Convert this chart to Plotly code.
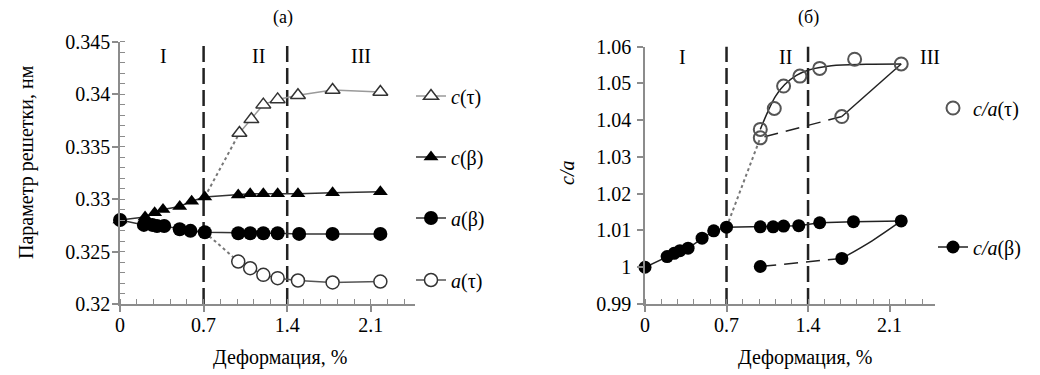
import plotly.graph_objects as go

FONT = '"Liberation Serif", "Times New Roman", Times, serif'
FS = 20

# ---------------- Panel (а): lattice parameters ----------------
x_c_tau = [1.00, 1.10, 1.20, 1.32, 1.49, 1.78, 2.18]
c_tau = [0.3363, 0.3376, 0.3390, 0.3395, 0.3399, 0.3404, 0.3402]

x_c_beta = [0.00, 0.21, 0.29, 0.36, 0.50, 0.60, 0.71, 0.99, 1.09, 1.20, 1.32, 1.49, 1.78, 2.18]
c_beta = [0.3280, 0.3283, 0.3287, 0.3290, 0.3293, 0.3298, 0.3302, 0.3304, 0.3305, 0.3305,
          0.3305, 0.3305, 0.3306, 0.3307]

x_a_beta = [0.00, 0.20, 0.27, 0.31, 0.37, 0.50, 0.59, 0.71, 0.99, 1.09, 1.20, 1.32, 1.50, 1.78, 2.18]
a_beta = [0.3280, 0.32754, 0.32754, 0.32744, 0.32744, 0.32713, 0.32697, 0.32684, 0.32675,
          0.32675, 0.32675, 0.32675, 0.32668, 0.32668, 0.32668]

x_a_tau = [0.99, 1.09, 1.20, 1.32, 1.49, 1.78, 2.18]
a_tau = [0.32405, 0.32341, 0.32278, 0.32246, 0.32224, 0.32205, 0.32214]

x_c_dot = [0.71, 1.00]
c_dot = [0.3302, 0.3363]
x_a_dot = [0.71, 0.99]
a_dot = [0.32684, 0.32405]

# ---------------- Panel (б): c/a ----------------
x_ca_beta = [0.00, 0.19, 0.25, 0.30, 0.37, 0.49, 0.59, 0.70, 0.99, 1.10, 1.19, 1.32, 1.50, 1.79, 2.20]
ca_beta = [1.0000, 1.0029, 1.0038, 1.0045, 1.0052, 1.0079, 1.0099, 1.0109, 1.0110, 1.0110,
           1.0112, 1.0113, 1.0121, 1.0124, 1.0126]
x_ca_beta_ret = [1.69, 0.99]
ca_beta_ret = [1.0024, 1.0002]
x_ca_beta_ret_curve = [2.20, 1.95, 1.69]
ca_beta_ret_curve = [1.0126, 1.0072, 1.0024]

x_ca_tau = [0.99, 1.11, 1.19, 1.33, 1.50, 1.80, 2.20]
ca_tau = [1.0375, 1.0432, 1.0493, 1.0520, 1.0541, 1.0566, 1.0553]
x_ca_tau_fit = [0.99, 1.05, 1.12, 1.20, 1.30, 1.40, 1.60, 1.90, 2.20]
ca_tau_fit = [1.0375, 1.0420, 1.0465, 1.0497, 1.0522, 1.0536, 1.0548, 1.0552, 1.0553]
x_ca_tau_ret = [1.69, 0.99]
ca_tau_ret = [1.0410, 1.0352]
x_ca_dot = [0.70, 0.99]
ca_dot = [1.0109, 1.0352]

boundaries = [0.7, 1.4]
stage_labels = ["I", "II", "III"]
stage_x_a = [0.36, 1.16, 2.02]
stage_x_b = [0.32, 1.21, 2.45]

xticks = [0, 0.7, 1.4, 2.1]
xticktext = ["0", "0.7", "1.4", "2.1"]
yticks_a = [0.32, 0.325, 0.33, 0.335, 0.34, 0.345]
yticktext_a = ["0.32", "0.325", "0.33", "0.335", "0.34", "0.345"]
yticks_b = [0.99, 1.00, 1.01, 1.02, 1.03, 1.04, 1.05, 1.06]
yticktext_b = ["0.99", "1", "1.01", "1.02", "1.03", "1.04", "1.05", "1.06"]

W, H = 1040, 375
fig = go.Figure()

GRAY_LINE = "#9a9a9a"
DOT = "#777777"
SOLID = "#222222"

def add(x, y, xa, ya, **kw):
    kw.setdefault("showlegend", False)
    fig.add_trace(go.Scatter(x=x, y=y, xaxis=xa, yaxis=ya, cliponaxis=False, **kw))

# ---- panel a traces ----
add(x_c_dot, c_dot, "x", "y", mode="lines", line=dict(color=DOT, width=2, dash="dot"))
add(x_a_dot, a_dot, "x", "y", mode="lines", line=dict(color=DOT, width=2, dash="dot"))
add(x_c_beta, c_beta, "x", "y", mode="lines+markers", name="<i>c</i>(β)",
    line=dict(color="#333333", width=1.5),
    marker=dict(symbol="triangle-up", size=13, color="black"),
    showlegend=True, legend="legend2")
add(x_c_tau, c_tau, "x", "y", mode="lines+markers", name="<i>c</i>(τ)",
    line=dict(color=GRAY_LINE, width=1.5),
    marker=dict(symbol="triangle-up", size=13, color="white", line=dict(color="#333333", width=1.5)),
    showlegend=True, legend="legend")
add(x_a_tau, a_tau, "x", "y", mode="lines+markers", name="<i>a</i>(τ)",
    line=dict(color="#555555", width=1.5),
    marker=dict(symbol="circle", size=13, color="white", line=dict(color="#333333", width=1.5)),
    showlegend=True, legend="legend4")
add(x_a_beta, a_beta, "x", "y", mode="lines+markers", name="<i>a</i>(β)",
    line=dict(color="#333333", width=1.5),
    marker=dict(symbol="circle", size=14, color="black"),
    showlegend=True, legend="legend3")

# ---- panel b traces ----
add(x_ca_dot, ca_dot, "x2", "y2", mode="lines", line=dict(color=DOT, width=2, dash="dot"))
add(x_ca_tau_fit, ca_tau_fit, "x2", "y2", mode="lines", line=dict(color=SOLID, width=1.5, shape="spline"))
add([x_ca_tau[-1], x_ca_tau_ret[0]], [ca_tau[-1], ca_tau_ret[0]], "x2", "y2", mode="lines",
    line=dict(color=SOLID, width=1.5))
add(x_ca_tau_ret, ca_tau_ret, "x2", "y2", mode="lines", line=dict(color=SOLID, width=1.5, dash="14px,8px"))
add(x_ca_beta_ret_curve, ca_beta_ret_curve, "x2", "y2", mode="lines",
    line=dict(color=SOLID, width=1.5, shape="spline"))
add(x_ca_beta_ret, ca_beta_ret, "x2", "y2", mode="lines", line=dict(color=SOLID, width=1.5, dash="14px,8px"))
add(x_ca_beta_ret, ca_beta_ret, "x2", "y2", mode="markers", marker=dict(symbol="circle", size=13, color="black"))
add(x_ca_beta, ca_beta, "x2", "y2", mode="lines+markers", name="<i>c/a</i>(β)",
    line=dict(color=SOLID, width=1.5),
    marker=dict(symbol="circle", size=13, color="black"),
    showlegend=True, legend="legend6")
add(x_ca_tau + x_ca_tau_ret, ca_tau + ca_tau_ret,
    "x2", "y2", mode="markers", name="<i>c/a</i>(τ)",
    marker=dict(symbol="circle-open", size=13, color="#555555", line=dict(width=2)),
    showlegend=True, legend="legend5")

# ---- boundaries ----
for xa, ya in (("x", "y"), ("x2", "y2")):
    for b in boundaries:
        fig.add_shape(type="line", xref=xa, yref=f"{ya} domain", x0=b, x1=b, y0=0, y1=1.0,
                      line=dict(color="#222222", width=2.5, dash="16px,6px"), layer="below")

txt_font = dict(family=FONT, size=FS, color="black")

# ---- stage labels ----
for lab, xs in zip(stage_labels, stage_x_a):
    fig.add_annotation(x=xs, y=0.3436, xref="x", yref="y", text=lab, showarrow=False, font=txt_font)
for lab, xs in zip(stage_labels, stage_x_b):
    fig.add_annotation(x=xs, y=1.0571, xref="x2", yref="y2", text=lab, showarrow=False, font=txt_font)

# ---- panel titles and axis titles (placed in paper space) ----
def paper_text(px, py, text, size=FS, angle=0):
    fig.add_annotation(x=px / W, y=1 - py / H, xref="paper", yref="paper", text=text, showarrow=False,
                       xanchor="center", yanchor="middle", textangle=angle,
                       font=dict(family=FONT, size=size, color="black"))

paper_text(283, 17, "(а)", 18)
paper_text(808, 17, "(б)", 18)
paper_text(280, 357, "Деформация, %")
paper_text(805, 357, "Деформация, %")
paper_text(27, 162, "Параметр решетки, нм", angle=-90)
paper_text(567, 173, "<i>c/a</i>", angle=-90)

AX_COLOR = "#8c8c8c"
common_x = dict(
    showline=True, linecolor=AX_COLOR, linewidth=1.5, showgrid=False, zeroline=False,
    automargin=False,
    tickmode="array", tickvals=xticks, ticktext=xticktext,
    ticks="outside", ticklen=6, tickwidth=1.5, tickcolor=AX_COLOR,
    minor=dict(tickmode="linear", tick0=0, dtick=0.14, ticks="inside", ticklen=5, tickwidth=1.2,
               tickcolor=AX_COLOR),
    tickfont=txt_font,
    ticklabelstandoff=-4,
)
common_y = dict(
    showline=True, linecolor=AX_COLOR, linewidth=1.5, showgrid=False, zeroline=False,
    automargin=False,
    ticks="outside", ticklen=6, tickwidth=1.5, tickcolor=AX_COLOR,
    tickfont=txt_font,
)
# inner halves of the major ticks (ticks cross the axis line)
inner_common = dict(showline=False, showgrid=False, zeroline=False, showticklabels=False,
                    automargin=False, ticks="inside", ticklen=6, tickwidth=1.5, tickcolor=AX_COLOR,
                    tickmode="array")

y_bot = 1 - 304 / H
fig.update_layout(
    template="none",
    width=W, height=H,
    margin=dict(l=0, r=0, t=0, b=0, autoexpand=False),
    paper_bgcolor="white", plot_bgcolor="white",
    font=txt_font,
    xaxis=dict(domain=[120 / W, 415 / W], range=[0, 2.47], anchor="y", **common_x),
    yaxis=dict(domain=[y_bot, 1 - 41.7 / H], range=[0.32, 0.345], anchor="x",
               tickmode="array", tickvals=yticks_a, ticktext=yticktext_a,
               minor=dict(tickmode="linear", tick0=0.32, dtick=0.001, ticks="inside", ticklen=5,
                          tickwidth=1.2, tickcolor=AX_COLOR),
               ticklabelstandoff=-2, **common_y),
    xaxis2=dict(domain=[645 / W, 935 / W], range=[0, 2.49], anchor="y2", **common_x),
    yaxis2=dict(domain=[y_bot, 1 - 46.7 / H], range=[0.99, 1.06], anchor="x2",
                tickmode="array", tickvals=yticks_b, ticktext=yticktext_b,
                ticklabelstandoff=2, **common_y),
    xaxis3=dict(overlaying="x", anchor="y", range=[0, 2.47], tickvals=xticks, **inner_common),
    yaxis3=dict(overlaying="y", anchor="x", range=[0.32, 0.345], tickvals=yticks_a, **inner_common),
    xaxis4=dict(overlaying="x2", anchor="y2", range=[0, 2.49], tickvals=xticks, **inner_common),
    yaxis4=dict(overlaying="y2", anchor="x2", range=[0.99, 1.06], tickvals=yticks_b, **inner_common),
)

leg_common = dict(xanchor="left", yanchor="middle", bgcolor="rgba(0,0,0,0)",
                  font=txt_font, itemwidth=30)
leg_pos = {
    "legend": (411, 96), "legend2": (411, 157), "legend3": (411, 218), "legend4": (411, 280),
    "legend5": (933, 108), "legend6": (933, 247),
}
for name, (px, py) in leg_pos.items():
    fig.update_layout({name: dict(x=px / W, y=1 - py / H, **leg_common)})

fig.write_html("out.html", config={"displayModeBar": False},
               post_script="document.body.style.margin='0';")
